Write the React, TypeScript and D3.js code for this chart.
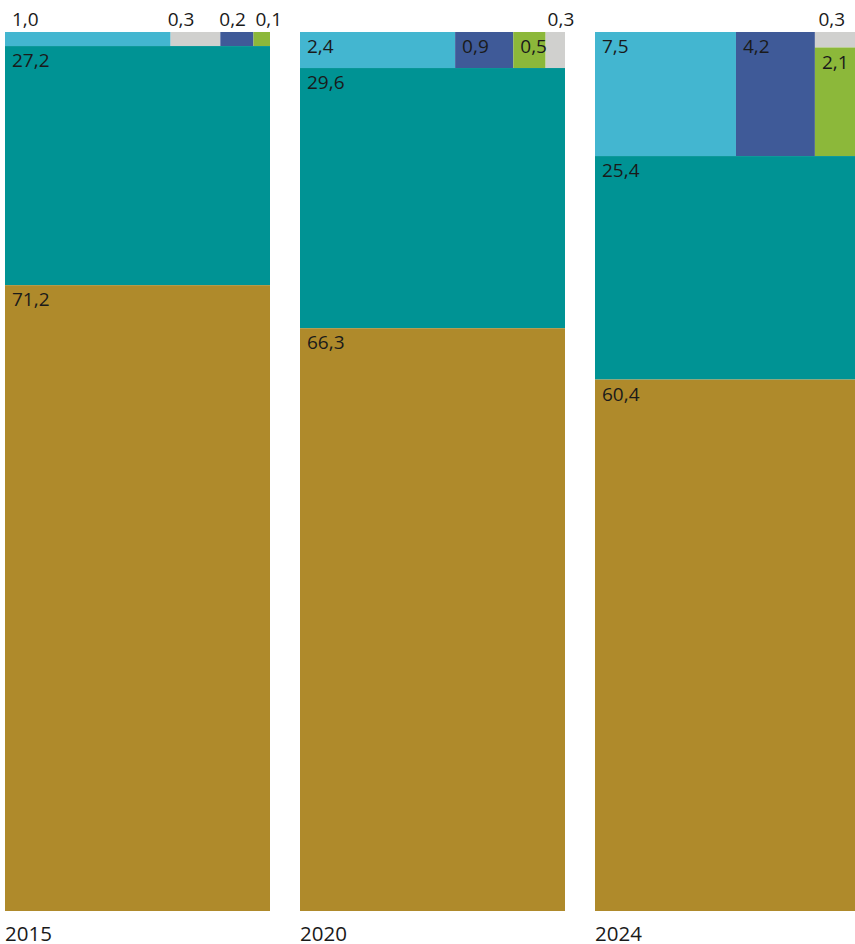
import React, { useMemo } from "react";
import * as d3 from "d3";

// Share of each category per year (percent)
const years = ["2015", "2020", "2024"];
const goldValues = [71.2, 66.3, 60.4];
const tealValues = [27.2, 29.6, 25.4];
const lightBlueValues = [1.0, 2.4, 7.5];
const darkBlueValues = [0.2, 0.9, 4.2];
const greenValues = [0.1, 0.5, 2.1];
const grayValues = [0.3, 0.3, 0.3];

// Small categories on the top strip: each inner list is one column, stacked top to bottom
const topStrip: string[][][] = [
  [["lightBlue"], ["gray"], ["darkBlue"], ["green"]],
  [["lightBlue"], ["darkBlue"], ["green"], ["gray"]],
  [["lightBlue"], ["darkBlue"], ["gray", "green"]],
];

const valuesByKey: Record<string, number[]> = {
  gold: goldValues,
  teal: tealValues,
  lightBlue: lightBlueValues,
  darkBlue: darkBlueValues,
  green: greenValues,
  gray: grayValues,
};

const colors: Record<string, string> = {
  gold: "#AF8A2B",
  teal: "#009394",
  lightBlue: "#43B6D0",
  darkBlue: "#3F5A98",
  green: "#8CB83A",
  gray: "#D0D0CE",
};

// Horizontal nudges for labels placed above tiles that are too small to hold them
const outsideLabelShift: Record<string, number> = {
  "2015-lightBlue": 7,
  "2015-gray": -3,
  "2015-darkBlue": -1,
  "2015-green": 2,
  "2020-gray": 2,
  "2024-gray": 3.5,
};

const WIDTH = 855;
const HEIGHT = 944;
const TOP = 32;
const BOTTOM = 911;
const FONT = "'Open Sans', 'Noto Sans', sans-serif";
const TEXT_COLOR = "#1a1a1a";

const fmt = (v: number) => d3.format(".1f")(v).replace(".", ",");

type Leaf = { key: string; value: number };

export default function App() {
  const x = useMemo(
    () =>
      d3
        .scaleBand<string>()
        .domain(years)
        .range([5, 860])
        .paddingInner(30 / 295)
        .paddingOuter(0),
    []
  );

  const columns = useMemo(() => {
    // Alternate vertical stacking and horizontal splitting by depth
    const tile = (node: any, x0: number, y0: number, x1: number, y1: number) =>
      (node.depth % 2 === 0 ? d3.treemapSlice : d3.treemapDice)(node, x0, y0, x1, y1);

    return years.map((year, i) => {
      const data = {
        children: [
          {
            children: topStrip[i].map((col) => ({
              children: col.map((key) => ({ key, value: valuesByKey[key][i] })),
            })),
          },
          { key: "teal", value: tealValues[i] },
          { key: "gold", value: goldValues[i] },
        ],
      };
      const root = d3
        .hierarchy<any>(data)
        .sum((d: any) => (d.children ? 0 : d.value));
      d3.treemap<any>()
        .size([x.bandwidth(), BOTTOM - TOP])
        .tile(tile as any)(root);
      const leaves = root.leaves().map((n: any) => ({
        key: (n.data as Leaf).key,
        value: (n.data as Leaf).value,
        x0: n.x0 + (x(year) as number),
        x1: n.x1 + (x(year) as number),
        y0: n.y0 + TOP,
        y1: n.y1 + TOP,
      }));
      return { year, leaves };
    });
  }, [x]);

  return (
    <svg
      width={WIDTH}
      height={HEIGHT}
      style={{ position: "absolute", left: 0, top: 0, background: "#fff" }}
      fontFamily={FONT}
    >
      {columns.map(({ year, leaves }) => (
        <g key={year}>
          {leaves.map((l) => (
            <rect
              key={l.key}
              x={l.x0}
              y={l.y0}
              width={l.x1 - l.x0}
              height={l.y1 - l.y0}
              fill={colors[l.key]}
            />
          ))}
          {leaves.map((l) => {
            const w = l.x1 - l.x0;
            const h = l.y1 - l.y0;
            const outside = h < 22 || w < 24;
            const tx = outside
              ? l.x0 + (outsideLabelShift[`${year}-${l.key}`] ?? 7)
              : l.x0 + 7;
            const ty = outside ? TOP - 6.5 : l.y0 + 21;
            return (
              <text
                key={`t-${l.key}`}
                x={tx}
                y={ty}
                fontSize={19}
                fill={TEXT_COLOR}
              >
                {fmt(l.value)}
              </text>
            );
          })}
          <text
            x={x(year) as number}
            y={941}
            fontSize={20.5}
            fill={TEXT_COLOR}
          >
            {year}
          </text>
        </g>
      ))}
    </svg>
  );
}
